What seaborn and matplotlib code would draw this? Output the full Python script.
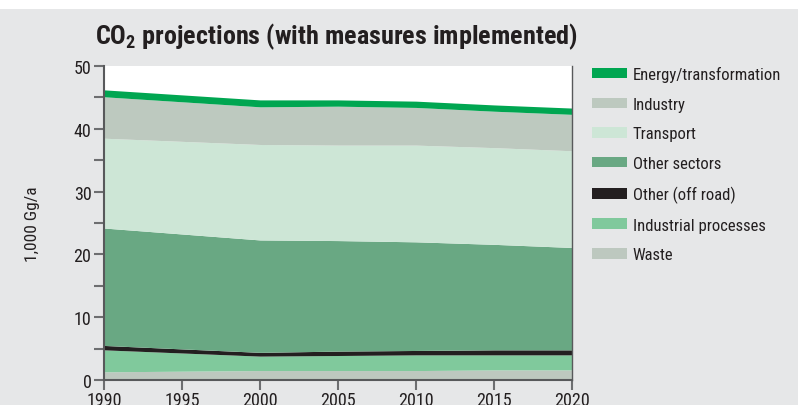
import numpy as np
import pandas as pd
import matplotlib
matplotlib.use("Agg")
import matplotlib.pyplot as plt
import seaborn as sns
from matplotlib.patches import Patch, Rectangle

# data (1,000 Gg/a)
years = [1990, 2000, 2005, 2010, 2015, 2020]
waste = [1.3, 1.5, 1.5, 1.5, 1.6, 1.6]
industrial_processes = [3.5, 2.3, 2.4, 2.5, 2.4, 2.4]
other_off_road = [0.7, 0.6, 0.7, 0.7, 0.8, 0.8]
other_sectors = [18.7, 17.9, 17.6, 17.3, 16.8, 16.3]
transport = [14.3, 15.2, 15.2, 15.4, 15.4, 15.4]
industry = [6.6, 6.0, 6.2, 6.0, 5.8, 5.8]
energy = [1.1, 1.1, 1.0, 1.0, 1.0, 1.0]

labels = ["Waste", "Industrial processes", "Other (off road)", "Other sectors",
          "Transport", "Industry", "Energy/transformation"]
colors = ["#bdc8bf", "#80c99c", "#231f20", "#69a883", "#cde6d6", "#bdc9bf", "#00a651"]

df = pd.DataFrame({"year": years, "Waste": waste, "Industrial processes": industrial_processes,
                   "Other (off road)": other_off_road, "Other sectors": other_sectors,
                   "Transport": transport, "Industry": industry,
                   "Energy/transformation": energy})

sns.set_style("ticks")
plt.rcParams["font.family"] = ["Roboto Condensed", "DejaVu Sans"]
plt.rcParams["mathtext.default"] = "regular"

bg = "#e6e7e8"
fig = plt.figure(figsize=(7.98, 4.06), dpi=100, facecolor=bg)
fig.patches.append(Rectangle((0, 0.975), 1, 0.025, transform=fig.transFigure,
                             facecolor="white", edgecolor="none", zorder=0))
ax = fig.add_axes([0.1303, 0.0616, 0.5865, 0.7734])
ax.set_facecolor("white")

ax.stackplot(df["year"], [df[c] for c in labels], colors=colors, linewidth=0)

ax.set_xlim(1990, 2020)
ax.set_ylim(0, 50)
ax.set_xticks(range(1990, 2021, 5))
ax.set_yticks(range(0, 51, 10))
ax.set_yticks(range(5, 50, 10), minor=True)
ax.tick_params(axis="both", which="both", direction="out", length=7, width=1.5,
               color="#6d6e70", labelsize=13, labelcolor="#231f20", pad=2)
ax.tick_params(axis="x", pad=1)
for s in ["left", "bottom", "right"]:
    ax.spines[s].set_color("#58595b")
    ax.spines[s].set_linewidth(1.5)
ax.spines["top"].set_visible(False)
ax.spines["right"].set_linewidth(1.0)

ax.set_ylabel("1,000 Gg/a", fontsize=12.5, color="#231f20", labelpad=24)
ax.set_xlabel("")

fig.text(0.119, 0.909, "CO$_{2}$ projections (with measures implemented)",
         fontsize=18.8, fontweight="bold", color="#231f20", va="center", ha="left")

handles = [Patch(facecolor=colors[i], edgecolor="none", label=labels[i]) for i in range(6, -1, -1)]
fig.legend(handles=handles, loc="upper left", bbox_to_anchor=(592 / 798, 1 - 67 / 406),
           frameon=False, fontsize=12, handlelength=2.1, handleheight=0.6,
           handletextpad=0.35, labelspacing=0.88, borderpad=0, borderaxespad=0,
           labelcolor="#231f20")

fig.savefig("out.png", dpi=100, facecolor=bg)
